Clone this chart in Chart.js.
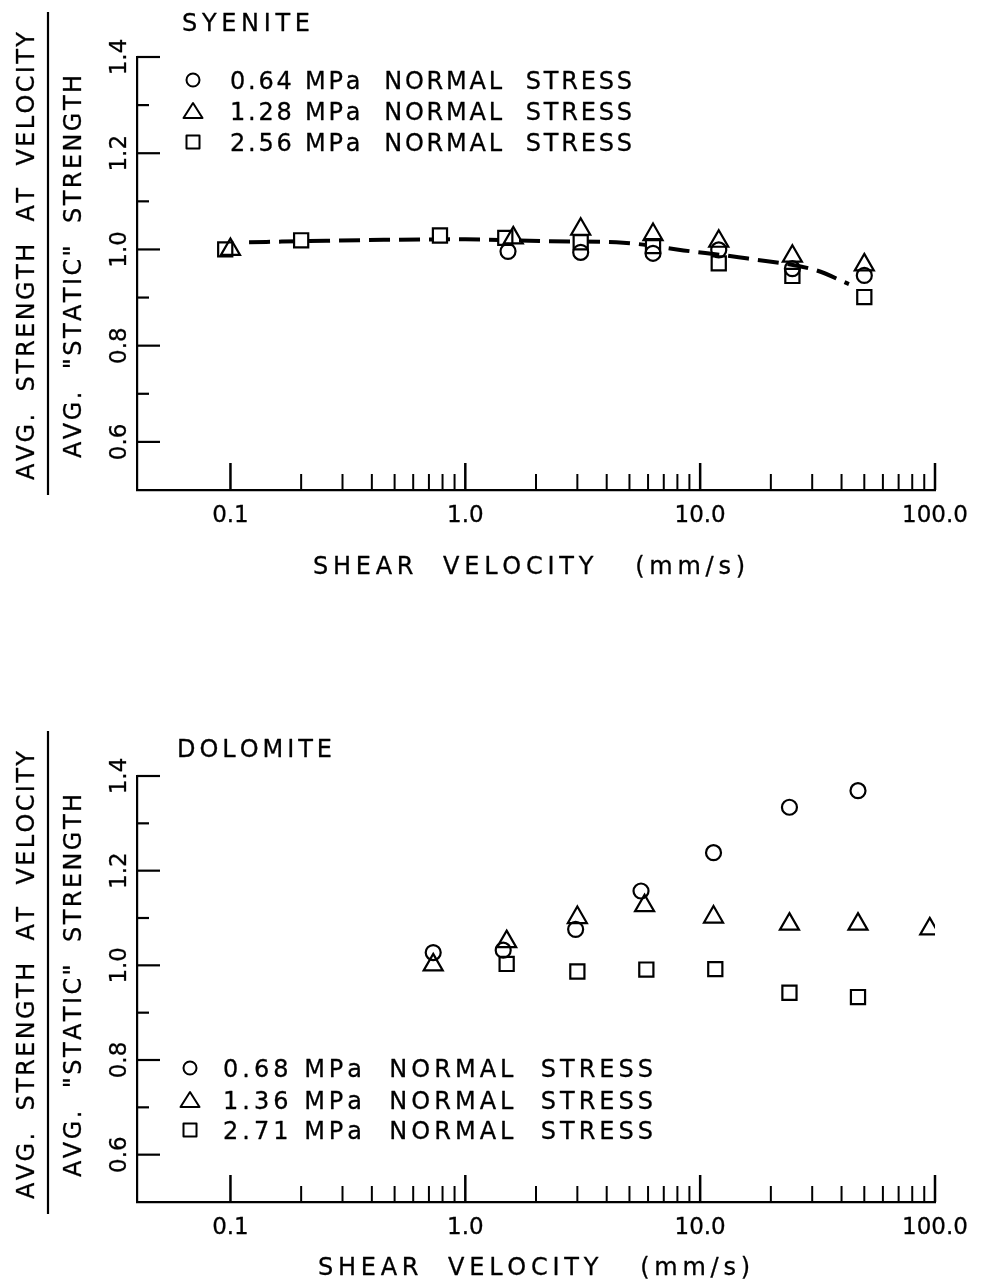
<!DOCTYPE html>
<html>
<head>
<meta charset="utf-8">
<title>Shear strength vs. shear velocity</title>
<script src="https://cdn.jsdelivr.net/npm/chart.js@4.4.1/dist/chart.umd.min.js"></script>
<style>
  html, body { margin: 0; padding: 0; background: #fff; }
  #wrap { position: relative; width: 986px; height: 1283px; overflow: hidden; }
  canvas { position: absolute; left: 0; }
  #syenite { top: 0; }
  #dolomite { top: 640px; }
</style>
</head>
<body>
<div id="wrap">
  <canvas id="syenite" width="986" height="640"></canvas>
  <canvas id="dolomite" width="986" height="643"></canvas>
</div>
<script>
// ---- axis ticks -----------------------------------------------------------
const xTickValues = [0.1, 1, 10, 100];
const xTickLabels = ['0.1', '1.0', '10.0', '100.0'];
const xMinorTicks = [0.2, 0.3, 0.4, 0.5, 0.6, 0.7, 0.8, 0.9,
                     2, 3, 4, 5, 6, 7, 8, 9,
                     20, 30, 40, 50, 60, 70, 80, 90];
const yTickValues = [0.6, 0.8, 1.0, 1.2, 1.4];
const yTickLabels = ['0.6', '0.8', '1.0', '1.2', '1.4'];
const yMinorTicks = [0.7, 0.9, 1.1, 1.3];

// ---- syenite ---------------------------------------------------------------
const syeniteCircleX   = [1.52, 3.1, 6.3, 12.0, 24.7, 50];
const syeniteCircleY   = [0.996, 0.994, 0.992, 0.999, 0.960, 0.946];
const syeniteTriangleX = [0.1, 1.6, 3.1, 6.3, 12.0, 24.7, 50];
const syeniteTriangleY = [1.000, 1.024, 1.042, 1.031, 1.017, 0.986, 0.968];
const syeniteSquareX   = [0.095, 0.2, 0.78, 1.48, 3.1, 6.3, 12.0, 24.7, 50];
const syeniteSquareY   = [1.000, 1.019, 1.029, 1.024, 1.015, 1.007, 0.971, 0.945, 0.901];
const syeniteTrendX    = [0.12, 0.2, 0.45, 1.0, 2.3, 4.7, 8.5, 16, 31, 43];
const syeniteTrendY    = [1.015, 1.017, 1.020, 1.021, 1.017, 1.014, 0.998, 0.981, 0.957, 0.928];
const syeniteLegend = ['0.64 MPa  NORMAL  STRESS', '1.28 MPa  NORMAL  STRESS', '2.56 MPa  NORMAL  STRESS'];

// ---- dolomite --------------------------------------------------------------
const dolomiteCircleX   = [0.73, 1.45, 2.95, 5.6, 11.4, 24, 47];
const dolomiteCircleY   = [1.027, 1.032, 1.076, 1.157, 1.238, 1.334, 1.369];
const dolomiteTriangleX = [0.73, 1.5, 3.0, 5.8, 11.4, 24, 47, 95];
const dolomiteTriangleY = [1.001, 1.050, 1.101, 1.126, 1.102, 1.087, 1.087, 1.077];
const dolomiteSquareX   = [1.5, 3.0, 5.9, 11.6, 24, 47];
const dolomiteSquareY   = [1.003, 0.987, 0.991, 0.992, 0.942, 0.933];
const dolomiteLegend = ['0.68 MPa  NORMAL  STRESS', '1.36 MPa  NORMAL  STRESS', '2.71 MPa  NORMAL  STRESS'];

const FONT = '"DejaVu Sans", "Liberation Sans", sans-serif';
const CAP = 0.729;
const INK = 0.3;   // light extra stroke for a pen-drawn weight
const TXT = 24;    // lettering size

const pts = (xs, ys) => xs.map((x, i) => ({ x, y: ys[i] }));

// Letter-spaced text, stretched to a given width, vertically centred on cy.
function spacedText(ctx, str, x0, cy, size, width) {
  ctx.font = size + 'px ' + FONT;
  ctx.textAlign = 'left';
  ctx.textBaseline = 'alphabetic';
  ctx.lineWidth = INK;
  ctx.lineJoin = 'round';
  const chars = Array.from(str);
  const ws = chars.map(c => ctx.measureText(c).width);
  const total = ws.reduce((a, b) => a + b, 0);
  const sp = chars.length > 1 ? (width - total) / (chars.length - 1) : 0;
  const base = cy + size * CAP / 2;
  let x = x0;
  chars.forEach((c, i) => {
    ctx.fillText(c, x, base);
    ctx.strokeText(c, x, base);
    x += ws[i] + sp;
  });
}

function spacedTextUp(ctx, str, cx, yBottom, yTop, size) {
  ctx.save();
  ctx.translate(cx, yBottom);
  ctx.rotate(-Math.PI / 2);
  spacedText(ctx, str, 0, 0, size, yBottom - yTop);
  ctx.restore();
}

function legendSymbol(ctx, kind, x, y) {
  ctx.lineWidth = 2;
  ctx.beginPath();
  if (kind === 'circle') {
    ctx.arc(x, y, 6.5, 0, Math.PI * 2);
  } else if (kind === 'triangle') {
    ctx.moveTo(x, y - 8);
    ctx.lineTo(x - 9.5, y + 7);
    ctx.lineTo(x + 9.5, y + 7);
    ctx.closePath();
  } else {
    ctx.rect(x - 6.5, y - 6.5, 13, 13);
  }
  ctx.stroke();
}

// Inward tick marks, panel lettering, legend and the two-line y title.
const panelDecor = {
  id: 'panelDecor',
  afterDraw(chart, args, o) {
    const { ctx, chartArea: a, scales: { x, y } } = chart;
    ctx.save();
    ctx.strokeStyle = '#000';
    ctx.fillStyle = '#000';
    ctx.lineCap = 'butt';

    const seg = (x1, y1, x2, y2, w) => {
      ctx.lineWidth = w;
      ctx.beginPath(); ctx.moveTo(x1, y1); ctx.lineTo(x2, y2); ctx.stroke();
    };
    xTickValues.forEach(v => { const p = x.getPixelForValue(v); seg(p, a.bottom, p, a.bottom - 27, 2.5); });
    xMinorTicks.forEach(v => { const p = x.getPixelForValue(v); seg(p, a.bottom, p, a.bottom - 16, 2); });
    yTickValues.forEach(v => { const p = y.getPixelForValue(v); seg(a.left, p, a.left + 23, p, 2.2); });
    yMinorTicks.forEach(v => { const p = y.getPixelForValue(v); seg(a.left, p, a.left + 12, p, 2.2); });

    // panel name
    spacedText(ctx, o.name, o.nameX, o.nameY, TXT, o.nameW);

    // legend
    ['circle', 'triangle', 'rect'].forEach((k, i) => {
      legendSymbol(ctx, k, o.legSymX, o.legRows[i]);
      spacedText(ctx, o.legend[i], o.legTextX, o.legRows[i], TXT, o.legTextW);
    });

    // x title
    spacedText(ctx, 'SHEAR  VELOCITY   (mm/s)', o.xtLeft, o.xtY, TXT, o.xtRight - o.xtLeft);

    // y title as a ratio: numerator, bar, denominator
    spacedTextUp(ctx, 'AVG.  STRENGTH  AT  VELOCITY', 25, o.ytOuter[0], o.ytOuter[1], TXT);
    seg(48, o.bar[0], 48, o.bar[1], 2.2);
    spacedTextUp(ctx, 'AVG.  "STATIC"  STRENGTH', 72, o.ytInner[0], o.ytInner[1], TXT);
    ctx.restore();
  }
};

function scalesFor(xAxisHeight) {
  return {
    x: {
      type: 'logarithmic',
      min: 0.04, max: 100, bounds: 'data',
      grid: { display: false, drawTicks: false },
      border: { display: true, color: '#000', width: 2.2 },
      ticks: {
        font: { family: FONT, size: 23 }, color: '#000', padding: 12,
        textStrokeColor: '#000', textStrokeWidth: INK,
        autoSkip: false, minRotation: 0, maxRotation: 0,
        callback: (v, i) => xTickLabels[i]
      },
      afterBuildTicks: s => { s.ticks = xTickValues.map(v => ({ value: v })); },
      afterFit: s => { s.height = xAxisHeight; }
    },
    y: {
      type: 'linear',
      min: 0.5, max: 1.4, bounds: 'data',
      grid: { display: false, drawTicks: false },
      border: { display: true, color: '#000', width: 2.2 },
      ticks: {
        font: { family: FONT, size: 23 }, color: '#000', padding: -1,
        textStrokeColor: '#000', textStrokeWidth: INK,
        autoSkip: false, minRotation: 90, maxRotation: 90, crossAlign: 'center',
        callback: (v, i) => yTickLabels[i]
      },
      afterBuildTicks: s => { s.ticks = yTickValues.map(v => ({ value: v })); },
      afterFit: s => { s.width = 137; }
    }
  };
}

function markerSets(cx, cy, tx, ty, sx, sy) {
  const base = { borderColor: '#000', borderWidth: 2.2, showLine: false };
  return [
    Object.assign({ label: 'square', data: pts(sx, sy), pointStyle: 'rect', pointRadius: 10,
                    backgroundColor: '#fff', order: 3 }, base),
    Object.assign({ label: 'circle', data: pts(cx, cy), pointStyle: 'circle', pointRadius: 7.5,
                    backgroundColor: 'rgba(255,255,255,0)', order: 2 }, base),
    Object.assign({ label: 'triangle', data: pts(tx, ty), pointStyle: 'triangle', pointRadius: 11,
                    backgroundColor: 'rgba(255,255,255,0)', order: 1 }, base)
  ];
}

const common = {
  responsive: false,
  animation: false,
  devicePixelRatio: 1,
  events: [],
  plugins: { legend: { display: false }, tooltip: { enabled: false } }
};

new Chart(document.getElementById('syenite'), {
  type: 'scatter',
  data: {
    datasets: [
      { label: 'trend', data: pts(syeniteTrendX, syeniteTrendY), showLine: true, pointRadius: 0,
        borderColor: '#000', borderWidth: 4, borderDash: [21, 9], fill: false,
        cubicInterpolationMode: 'monotone', order: 4 },
      ...markerSets(syeniteCircleX, syeniteCircleY, syeniteTriangleX, syeniteTriangleY,
                    syeniteSquareX, syeniteSquareY)
    ]
  },
  options: Object.assign({}, common, {
    layout: { padding: { top: 57, right: 51, bottom: 0, left: 0 } },
    scales: scalesFor(150),
    plugins: Object.assign({}, common.plugins, {
      panelDecor: {
        name: 'SYENITE', nameX: 182, nameY: 22, nameW: 128,
        legend: syeniteLegend, legSymX: 193, legRows: [80, 111, 142], legTextX: 230, legTextW: 402,
        xtLeft: 313, xtRight: 745, xtY: 565,
        ytOuter: [480, 32], ytInner: [458, 75], bar: [12, 495]
      }
    })
  }),
  plugins: [panelDecor]
});

new Chart(document.getElementById('dolomite'), {
  type: 'scatter',
  data: {
    datasets: markerSets(dolomiteCircleX, dolomiteCircleY, dolomiteTriangleX, dolomiteTriangleY,
                         dolomiteSquareX, dolomiteSquareY)
  },
  options: Object.assign({}, common, {
    layout: { padding: { top: 136, right: 51, bottom: 0, left: 0 } },
    scales: scalesFor(81),
    plugins: Object.assign({}, common.plugins, {
      panelDecor: {
        name: 'DOLOMITE', nameX: 177, nameY: 108, nameW: 155,
        legend: dolomiteLegend, legSymX: 190, legRows: [428, 460, 490], legTextX: 223, legTextW: 430,
        xtLeft: 318, xtRight: 750, xtY: 626,
        ytOuter: [559, 111], ytInner: [537, 154], bar: [91, 574]
      }
    })
  }),
  plugins: [panelDecor]
});
</script>
</body>
</html>
